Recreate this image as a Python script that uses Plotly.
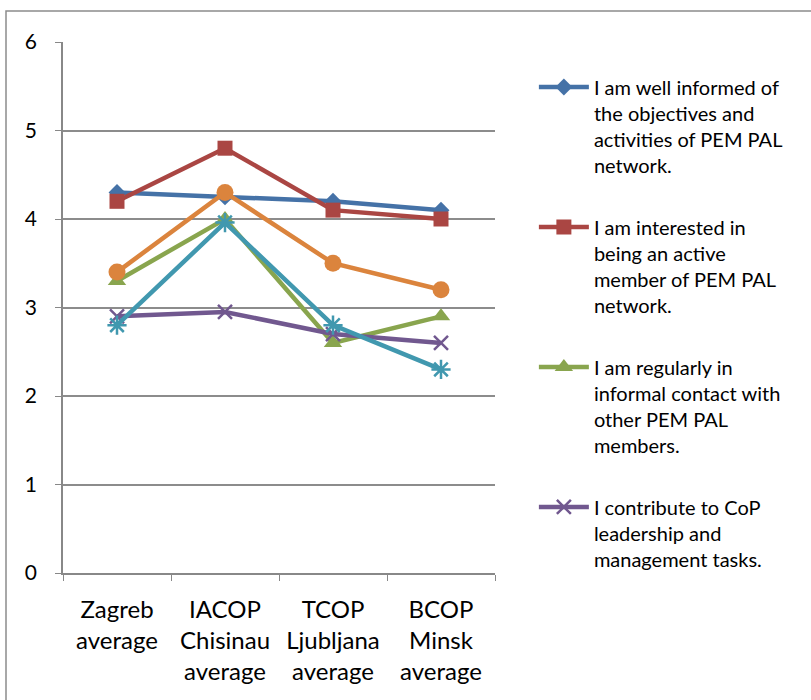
import plotly.graph_objects as go

# Survey averages per community of practice
categories = [
    "Zagreb<br>average",
    "IACOP<br>Chisinau<br>average",
    "TCOP<br>Ljubljana<br>average",
    "BCOP<br>Minsk<br>average",
]

well_informed = [4.3, 4.25, 4.2, 4.1]
interested_active = [4.2, 4.8, 4.1, 4.0]
informal_contact = [3.3, 4.0, 2.6, 2.9]
contribute_leadership = [2.9, 2.95, 2.7, 2.6]
series_five = [2.8, 3.96, 2.8, 2.3]
series_six = [3.4, 4.3, 3.5, 3.2]

series = [
    ("I am well informed of<br>the objectives and<br>activities of PEM PAL<br>network.",
     well_informed, "#4572A7", dict(symbol="diamond", size=13), True),
    ("I am interested in<br>being an active<br>member of PEM PAL<br>network.",
     interested_active, "#AA4643", dict(symbol="square", size=15), True),
    ("I am regularly in<br>informal contact with<br>other PEM PAL<br>members.",
     informal_contact, "#89A54E", dict(symbol="triangle-up", size=16), True),
    ("I contribute to CoP<br>leadership and<br>management tasks.",
     contribute_leadership, "#71588F", dict(symbol="x-thin-open", size=14), True),
    ("Series 5", series_five, "#4198AF", dict(symbol="asterisk-open", size=16), False),
    ("Series 6", series_six, "#DB843D", dict(symbol="circle", size=17), False),
]

fig = go.Figure()
for i, (name, vals, color, mk, show) in enumerate(series):
    marker = dict(color=color, **mk)
    if mk["symbol"].endswith("open"):
        marker["line"] = dict(color=color, width=2.5)
    fig.add_trace(go.Scatter(
        x=categories, y=vals, name=name, mode="lines+markers",
        line=dict(color=color, width=4.5), marker=marker,
        showlegend=show, legendgroup=f"g{i}",
    ))

fig.update_layout(
    width=811, height=700,
    margin=dict(l=63, r=316, t=42, b=127),
    paper_bgcolor="white", plot_bgcolor="white",
    font=dict(family="Lato, Calibri, sans-serif", color="#000000", size=20),
    legend=dict(
        x=1.09, y=0.952, xanchor="left", yanchor="top",
        font=dict(size=20), tracegroupgap=33, valign="top",
        itemwidth=50, bgcolor="rgba(0,0,0,0)",
    ),
    xaxis=dict(
        type="category", range=[-0.5, 3.5], tickson="boundaries",
        ticks="outside", ticklen=6, tickcolor="#888888",
        showline=True, linecolor="#888888", linewidth=1.5,
        showgrid=False, tickfont=dict(size=24), fixedrange=True,
        ticklabelstandoff=14,
    ),
    yaxis=dict(
        range=[0, 6], dtick=1, ticks="outside", ticklen=6, tickcolor="#888888",
        showline=True, linecolor="#888888", linewidth=1.5,
        showgrid=True, gridcolor="#8C8C8C", gridwidth=1.5,
        zeroline=False, tickfont=dict(size=21), ticklabelstandoff=14,
    ),
    shapes=[dict(
        type="rect", xref="paper", yref="paper",
        x0=(6 - 63) / 432, x1=(815 - 63) / 432,
        y0=(573 - 705) / 531, y1=(573 - 11) / 531,
        line=dict(color="#8C8C8C", width=1.5), fillcolor="rgba(0,0,0,0)",
        layer="below",
    )],
)

fig.write_html("out.html")
